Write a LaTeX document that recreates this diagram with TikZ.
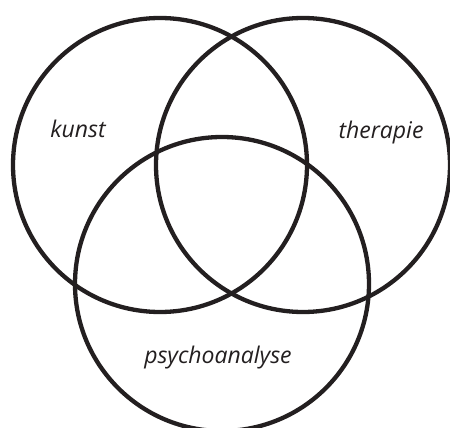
\documentclass[tikz,border=0pt]{standalone}
\usepackage{fontspec}
\setsansfont{Open Sans}
\definecolor{ink}{HTML}{231F20}
\tikzset{
  ring/.style={draw=ink,line width=4.3pt},
  lbl/.style={font=\sffamily\itshape\fontsize{23}{26}\selectfont,text=ink,inner sep=0pt}
}
\begin{document}
\begin{tikzpicture}[x=1pt,y=-1pt]
   \useasboundingbox (0,0) rectangle (450,428);
   \foreach \x/\y/\n in
     {160/165/kunst,
      303/165/therapie,
      222/284/psycho
     }
     \draw[ring] (\x,\y) coordinate (\n) circle[radius=147pt];
   \node[lbl] (kunstlbl) at (78,129) {kunst};
   \node[lbl] (therapielbl) at (381,133) {therapie};
   \node[lbl] (psycholbl) at (218,358) {psychoanalyse};
\end{tikzpicture}
\end{document}
